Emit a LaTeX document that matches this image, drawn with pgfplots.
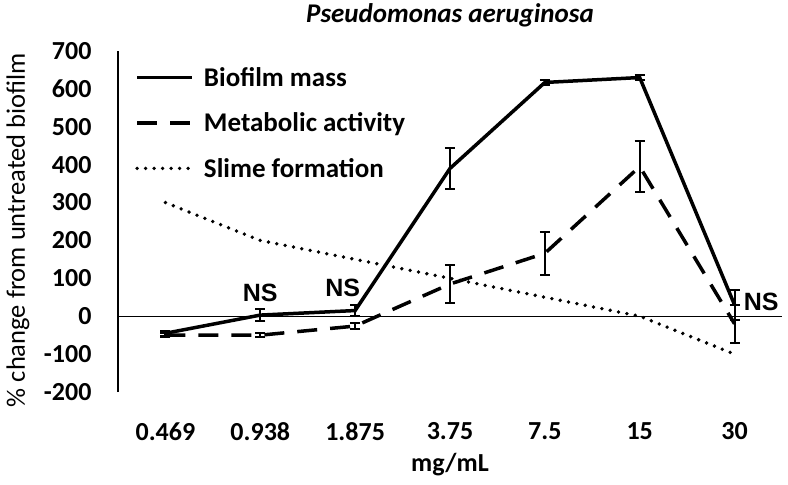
\documentclass[border=0pt]{standalone}
\usepackage{fontspec}
\setmainfont{Carlito}
\newfontfamily\arialfont{Liberation Sans}
\usepackage{pgfplots}
\usepackage{pgfplotstable}
\pgfplotsset{compat=1.18}

\pgfplotstableread{
x y err
0 -45 6
1 3 15
2 15 15
3 390 55
4 617 6
5 630 6
6 30 40
}\biofilm
\pgfplotstableread{
x y err
0 -50 5
1 -50 6
2 -26 8
3 85 50
4 166 57
5 395 68
6 -20 50
}\metab
\pgfplotstableread{
x y
0 300
1 200
2 150
3 100
4 50
5 0
6 -100
}\slime

\begin{document}
\begin{tikzpicture}
\begin{axis}[
  scale only axis, width=664pt, height=341pt,
  xmin=-0.5, xmax=6.5, ymin=-200, ymax=700,
  axis lines=left,
  axis line style={-},
  x axis line style={draw=none},
  y axis line style={line width=1.3pt},
  major tick length=0pt,
  xtick={0,...,6},
  xticklabels={0.469,0.938,1.875,3.75,7.5,15,30},
  ytick={-200,-100,...,700},
  /pgf/number format/assume math mode=true,
  ticklabel style={font=\bfseries\fontsize{26}{30}\selectfont},
  yticklabel style={xshift=-23pt},
  xticklabel style={yshift=-27pt},
  title={\bfseries\itshape Pseudomonas aeruginosa},
  title style={font=\fontsize{27}{31}\selectfont, at={(axis description cs:0.5,1)}, anchor=center, yshift=30pt},
  xlabel={\bfseries mg/mL},
  xlabel style={font=\fontsize{26}{30}\selectfont, at={(axis description cs:0.5,0)}, anchor=center, yshift=-73pt},
  ylabel={\% change from untreated biofilm},
  ylabel style={font=\fontsize{26.5}{31}\selectfont, at={(axis description cs:-0.1506,0.475)}, anchor=center},
  legend style={at={(axis description cs:0,1)}, anchor=north west, xshift=14pt, yshift=-12pt, draw=none, fill=none,
    font=\bfseries\fontsize{27}{31}\selectfont, row sep=21pt, cells={anchor=west}},
  legend image code/.code={\draw[#1] (0pt,0pt) -- (55pt,0pt);},
  legend cell align=left,
  error bars/error bar style={line width=2pt, solid},
  error bars/error mark options={rotate=90, mark size=5pt, line width=2pt, solid},
]
\draw[line width=1.1pt] (axis cs:-0.5,0) -- (axis cs:6.5,0);
\addplot[black, line width=3.5pt, mark=none,
  error bars/.cd, y dir=both, y explicit]
  table[x=x, y=y, y error=err] {\biofilm};
\addlegendentry{\hspace{8pt}Biofilm mass}
\addplot[black, line width=3.5pt, dash pattern=on 20pt off 13pt, mark=none,
  error bars/.cd, y dir=both, y explicit]
  table[x=x, y=y, y error=err] {\metab};
\addlegendentry{\hspace{8pt}Metabolic activity}
\addplot[black, line width=3.8pt, line cap=round, dash pattern=on 0pt off 8.5pt, mark=none]
  table[x=x, y=y] {\slime};
\addlegendentry{\hspace{8pt}Slime formation}
\node[font=\arialfont\bfseries\fontsize{25}{29}\selectfont] at (axis cs:1,61) {NS};
\node[font=\arialfont\bfseries\fontsize{25}{29}\selectfont] at (axis cs:1.87,74) {NS};
\node[font=\arialfont\bfseries\fontsize{25}{29}\selectfont] at (axis cs:6.28,37) {NS};
\end{axis}
\pgfresetboundingbox
\path[use as bounding box] ([xshift=-118pt,yshift=-93pt]current axis.south west) rectangle ++(788pt,485pt);
\end{tikzpicture}
\end{document}
